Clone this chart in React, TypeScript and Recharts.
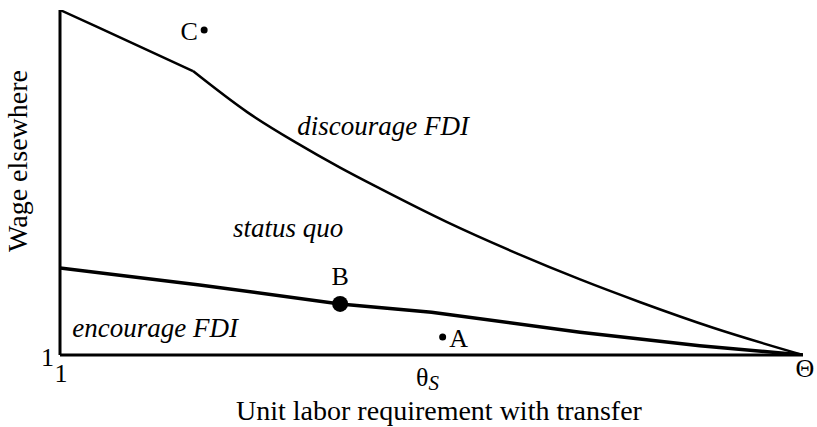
import React from 'react';
import { ComposedChart, Line, Scatter, XAxis, YAxis, ReferenceDot } from 'recharts';

// Upper boundary, straight part (left of the kink)
const upperAX = [0, 5.0, 17.9];
const upperAY = [100, 95.1, 82.3];

// Upper boundary, curved part (right of the kink)
const upperBX = [17.9, 25.2, 31.9, 37.7, 43.1, 52.1, 61.0, 70.0, 78.1, 87.9, 100];
const upperBY = [82.3, 70.4, 61.4, 54.3, 48.2, 38.5, 29.9, 21.9, 15.3, 7.9, 0];

// Lower boundary (status quo / encourage FDI)
const lowerX = [0, 18.8, 37.7, 50.0, 70.0, 86.1, 100];
const lowerY = [25.2, 20.3, 14.8, 12.4, 6.6, 2.7, 0];

// Marked points
const pointNames = ['C', 'B', 'A'];
const pointX = [19.4, 37.7, 51.5];
const pointY = [94.2, 14.8, 5.2];

// Region labels
const regionNames = ['discourage FDI', 'status quo', 'encourage FDI'];
const regionX = [43.5, 30.7, 12.8];
const regionY = [66.4, 36.8, 7.8];

// Tick labels
const xTickValues = [0, 50, 100];
const xTickLabels = ['1', 'θS', 'Θ'];
const yTickValues = [0];
const yTickLabels = ['1'];

const upperAData = upperAX.map((x, i) => ({ x, y: upperAY[i] }));
const upperBData = upperBX.map((x, i) => ({ x, y: upperBY[i] }));
const lowerData = lowerX.map((x, i) => ({ x, y: lowerY[i] }));
const pointData = pointX.map((x, i) => ({ x, y: pointY[i], name: pointNames[i] }));

const FONT = '"Liberation Serif", "Times New Roman", serif';

const pointRadius: Record<string, number> = { C: 3.5, B: 8, A: 3.5 };
const pointLabelOffset: Record<string, [number, number]> = {
  C: [-15, 1],
  B: [0, -27],
  A: [16, 1],
};

const PointShape = (props: any) => {
  const { cx, cy, payload } = props;
  const r = pointRadius[payload.name] ?? 4;
  const [dx, dy] = pointLabelOffset[payload.name] ?? [0, 0];
  return (
    <g>
      <circle cx={cx} cy={cy} r={r} fill="#000" />
      <text
        x={cx + dx}
        y={cy + dy}
        textAnchor="middle"
        dominantBaseline="central"
        fontFamily={FONT}
        fontSize={26}
        fill="#000"
      >
        {payload.name}
      </text>
    </g>
  );
};

const XTick = (props: any) => {
  const { x, y, payload } = props;
  const idx = xTickValues.indexOf(payload.value);
  const label = xTickLabels[idx];
  if (label === 'θS') {
    return (
      <text x={x - 4} y={y + 14} textAnchor="middle" dominantBaseline="central" fontFamily={FONT} fontSize={26} fill="#000">
        <tspan>θ</tspan>
        <tspan fontStyle="italic" fontSize={21} dy={6}>S</tspan>
      </text>
    );
  }
  const dx = label === 'Θ' ? 2 : 1;
  const dy = label === 'Θ' ? 5 : 10;
  return (
    <text x={x + dx} y={y + dy} textAnchor="middle" dominantBaseline="central" fontFamily={FONT} fontSize={26} fill="#000">
      {label}
    </text>
  );
};

const YTick = (props: any) => {
  const { x, y, payload } = props;
  const idx = yTickValues.indexOf(payload.value);
  return (
    <text x={x + 2} y={y + 2} textAnchor="end" dominantBaseline="central" fontFamily={FONT} fontSize={26} fill="#000">
      {yTickLabels[idx]}
    </text>
  );
};

const makeRegionLabel = (text: string) => (props: any) => {
  const vb = props.viewBox || {};
  const cx = (vb.x ?? 0) + (vb.width ?? 0) / 2;
  const cy = (vb.y ?? 0) + (vb.height ?? 0) / 2;
  return (
    <text
      x={cx}
      y={cy}
      textAnchor="middle"
      dominantBaseline="central"
      fontFamily={FONT}
      fontStyle="italic"
      fontSize={27}
      fill="#000"
    >
      {text}
    </text>
  );
};

const XTitle = () => (
  <text
    x={439}
    y={410}
    textAnchor="middle"
    dominantBaseline="central"
    fontFamily={FONT}
    fontSize={28}
    fill="#000"
  >
    Unit labor requirement with transfer
  </text>
);

const YTitle = () => {
  const cy = 161;
  return (
    <text
      x={17}
      y={cy}
      transform={`rotate(-90, 17, ${cy})`}
      textAnchor="middle"
      dominantBaseline="central"
      fontFamily={FONT}
      fontSize={28}
      fill="#000"
    >
      Wage elsewhere
    </text>
  );
};

export default function App() {
  return (
    <div style={{ position: 'absolute', left: 0, top: 0, background: '#fff' }}>
      <ComposedChart width={817} height={427} margin={{ top: 10, right: 14, bottom: 0, left: 0 }}>
        <XAxis
          type="number"
          dataKey="x"
          domain={[0, 100]}
          ticks={xTickValues}
          tick={<XTick />}
          tickLine={false}
          axisLine={{ stroke: '#000', strokeWidth: 3 }}
          height={72}
          allowDataOverflow
          label={<XTitle />}
        />
        <YAxis
          type="number"
          dataKey="y"
          domain={[0, 100]}
          ticks={yTickValues}
          tick={<YTick />}
          tickLine={false}
          axisLine={{ stroke: '#000', strokeWidth: 3 }}
          width={60}
          allowDataOverflow
          label={<YTitle />}
        />
        <Line
          data={upperAData}
          dataKey="y"
          type="linear"
          stroke="#000"
          strokeWidth={2.5}
          dot={false}
          activeDot={false}
          isAnimationActive={false}
        />
        <Line
          data={upperBData}
          dataKey="y"
          type="monotone"
          stroke="#000"
          strokeWidth={2.5}
          dot={false}
          activeDot={false}
          isAnimationActive={false}
        />
        <Line
          data={lowerData}
          dataKey="y"
          type="linear"
          stroke="#000"
          strokeWidth={3.5}
          dot={false}
          activeDot={false}
          isAnimationActive={false}
        />
        <Scatter data={pointData} dataKey="y" shape={<PointShape />} isAnimationActive={false} />
        {regionNames.map((name, i) => (
          <ReferenceDot
            key={name}
            x={regionX[i]}
            y={regionY[i]}
            r={1}
            fill="none"
            stroke="none"
            label={makeRegionLabel(name)}
          />
        ))}
      </ComposedChart>
    </div>
  );
}
